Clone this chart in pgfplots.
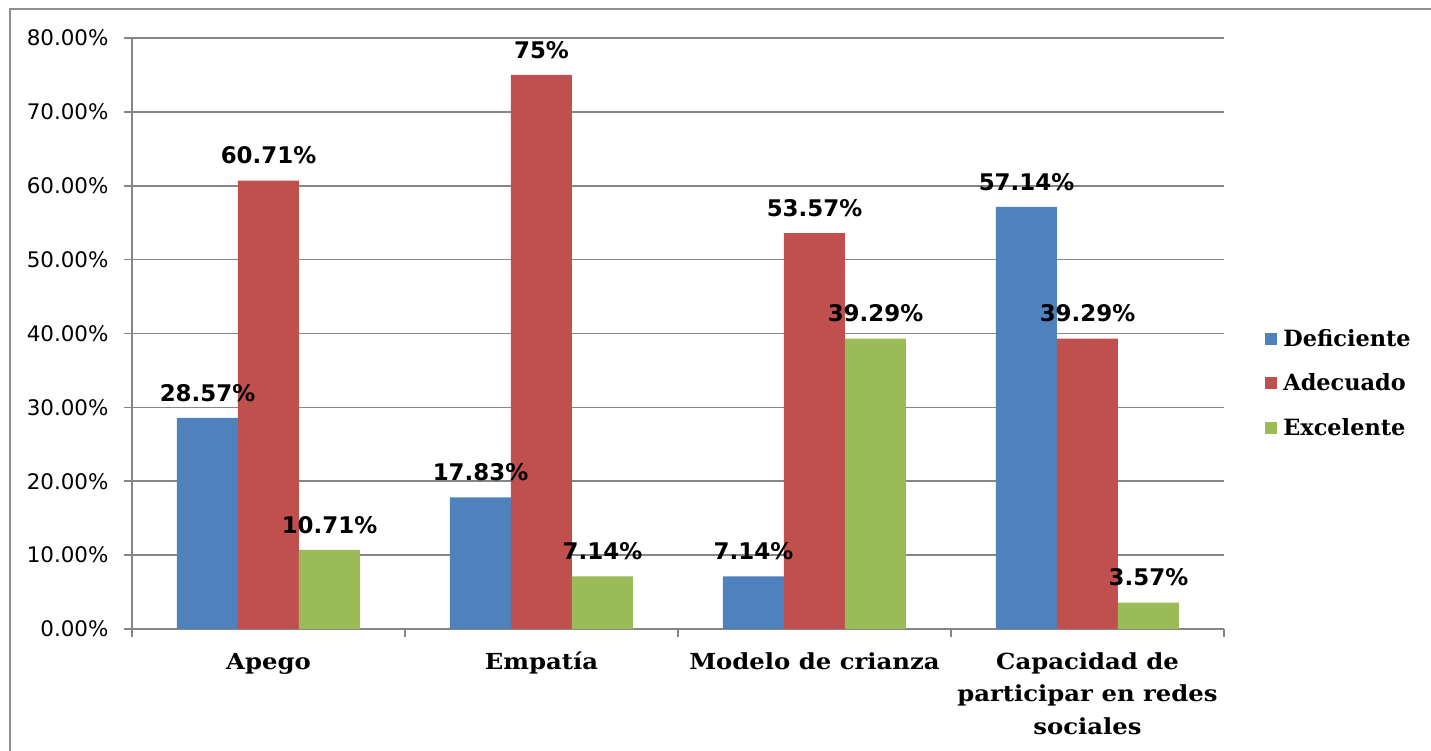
\documentclass[border=0pt]{standalone}
\usepackage{fontspec}
\usepackage{pgfplots}
\pgfplotsset{compat=1.18}
\setmainfont{DejaVu Sans}
\newfontfamily\catfont[FakeStretch=1.1]{DejaVu Serif}
\newfontfamily\legfont{DejaVu Serif}
\definecolor{cBlue}{HTML}{4F81BD}
\definecolor{cRed}{HTML}{C0504D}
\definecolor{cGreen}{HTML}{9BBB59}
\definecolor{cGrid}{HTML}{868686}
\definecolor{cFrame}{HTML}{8E8E8E}
\begin{document}
\begin{tikzpicture}
\useasboundingbox (0,0) rectangle (1431bp,751bp);
\draw[cFrame, line width=2bp] (10bp,0) -- (10bp,742bp) -- (1431bp,742bp);
\begin{axis}[
  at={(132bp,122bp)}, anchor=south west,
  scale only axis, width=1092bp, height=591bp,
  ybar=0pt, bar width=61bp,
  xmin=-0.5, xmax=3.5, ymin=0, ymax=80,
  axis x line*=bottom, axis y line*=left,
  axis line style={cGrid, line width=1.6bp, -},
  ymajorgrids, grid style={cGrid, line width=1.6bp},
  ytick={0,10,...,80},
  yticklabel={\pgfmathprintnumber[fixed,fixed zerofill,precision=2]{\tick}\%},
  /pgf/number format/assume math mode=true,
  yticklabel style={font=\fontsize{21.5}{24}\selectfont, xshift=-12bp},
  tick align=outside,
  major tick length=8bp,
  xtick style={draw=cGrid, line width=1.6bp},
  ytick style={draw=cGrid, line width=1.6bp},
  xtick={-0.5,0.5,1.5,2.5,3.5},
  xticklabels={,,,,,},
  extra x ticks={0,1,2,3},
  extra x tick labels={\strut Apego, \strut Empatía, \strut Modelo de crianza, {\strut Capacidad de\\participar en redes\\sociales}},
  extra x tick style={major tick length=0pt, xticklabel style={font=\catfont\bfseries\fontsize{22.2}{33}\selectfont, align=center, anchor=north, yshift=-13.5bp}},
  legend style={at={(axis description cs:1.035,0.416)}, anchor=west, draw=none, fill=none,
    font=\legfont\bfseries\fontsize{22.5}{26}\selectfont, row sep=22bp,
    nodes={inner xsep=6bp}},
  legend cell align=left,
  legend image code/.code={\fill[#1] (0bp,-6bp) rectangle (12bp,6bp);},
  point meta=explicit symbolic,
  nodes near coords={\pgfplotspointmeta\%},
  every node near coord/.append style={font=\bfseries\fontsize{23}{27}\selectfont, yshift=13bp, text=black},
]
\addplot[fill=cBlue, draw=none] table[meta=l] {
x y l
0 28.57 28.57
1 17.83 17.83
2 7.14 7.14
3 57.14 57.14
};
\addplot[fill=cRed, draw=none] table[meta=l] {
x y l
0 60.71 60.71
1 75 75
2 53.57 53.57
3 39.29 39.29
};
\addplot[fill=cGreen, draw=none] table[meta=l] {
x y l
0 10.71 10.71
1 7.14 7.14
2 39.29 39.29
3 3.57 3.57
};
\legend{Deficiente, Adecuado, Excelente}
\end{axis}
\end{tikzpicture}
\end{document}
